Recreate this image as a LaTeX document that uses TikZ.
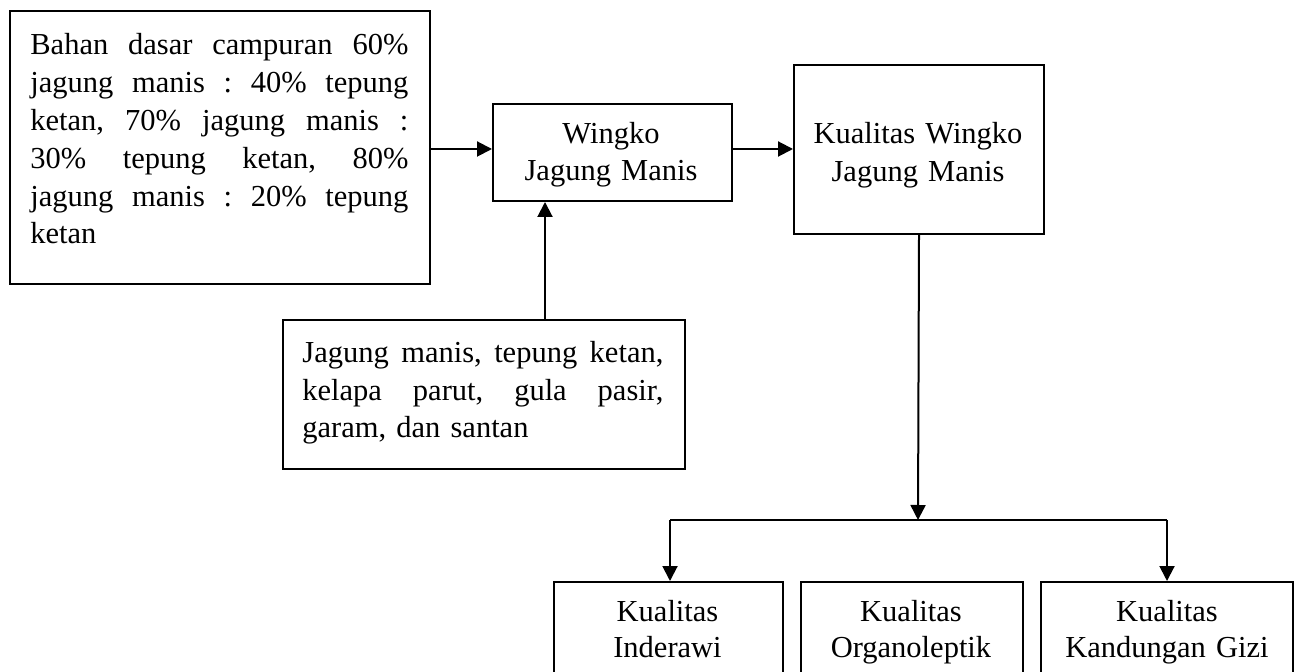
\documentclass[tikz,border=0pt]{standalone}
\usepackage{fontspec}
\setmainfont{Liberation Serif}
\usetikzlibrary{arrows.meta}
\newcommand\jline[2]{\leavevmode\hbox to #1{#2}}
\frenchspacing
\begin{document}
\begin{tikzpicture}[x=0.5pt,y=-0.5pt,
  box/.style={draw, line width=1pt, inner sep=0pt, anchor=north west},
  txt/.style={inner sep=0pt, anchor=base},
  txtl/.style={inner sep=0pt, anchor=base west, align=left},
  arr/.style={line width=1pt, -{Triangle[length=7.5pt,width=7.5pt]}},
  conn/.style={line width=1pt}]
\clip (0,0) rectangle (1299,672);
% boxes
\node[box, minimum width=210pt, minimum height=136.5pt] (boxA) at (9,10) {};
\node[box, minimum width=119.5pt, minimum height=48.5pt] (boxW) at (492,103) {};
\node[box, minimum width=125pt, minimum height=84.5pt] (boxK) at (793,64) {};
\node[box, minimum width=201pt, minimum height=74.5pt] (boxJ) at (282,319) {};
\node[box, minimum width=114.5pt, minimum height=75pt] (bI) at (553,581) {};
\node[box, minimum width=111pt, minimum height=75pt] (bO) at (800,581) {};
\node[box, minimum width=126pt, minimum height=75pt] (bG) at (1040,581) {};
% texts
\node[txtl, text width=189pt, font=\fontsize{15.25pt}{18.9pt}\selectfont] (tA) at (30,55)
  {\jline{189pt}{Bahan\hfill dasar\hfill campuran\hfill 60\%}\\
   \jline{189pt}{jagung\hfill manis\hfill :\hfill 40\%\hfill tepung}\\
   \jline{189pt}{ketan,\hfill 70\%\hfill jagung\hfill manis\hfill :}\\
   \jline{189pt}{30\%\hfill tepung\hfill ketan,\hfill 80\%}\\
   \jline{189pt}{jagung\hfill manis\hfill :\hfill 20\%\hfill tepung}\\
   ketan};
\node[txtl, text width=180.5pt, font=\fontsize{15.25pt}{18.75pt}\selectfont] (tJ) at (302,363)
  {\jline{180.5pt}{Jagung\hfill manis,\hfill tepung\hfill ketan,}\\
   \jline{180.5pt}{kelapa\hfill parut,\hfill gula\hfill pasir,}\\
   garam, dan santan};
\node[txt, text width=119pt, align=center, font=\fontsize{15.25pt}{18.5pt}\selectfont] (tW) at (611,144)
  {Wingko\\Jagung Manis};
\node[txt, text width=124pt, align=center, font=\fontsize{15.25pt}{18.75pt}\selectfont] (tK) at (918,144)
  {Kualitas Wingko\\Jagung Manis};
\node[txt, text width=114pt, align=center, font=\fontsize{15.25pt}{18pt}\selectfont] (tI) at (667.5,621)
  {Kualitas\\Inderawi};
\node[txt, text width=110pt, align=center, font=\fontsize{15.25pt}{18pt}\selectfont] (tO) at (911,621)
  {Kualitas\\Organoleptik};
\node[txt, text width=125pt, align=center, font=\fontsize{15.25pt}{18pt}\selectfont] (tG) at (1167,621)
  {Kualitas\\Kandungan Gizi};
% connectors
\coordinate (ly) at (0,149);
\coordinate (jx) at (545,0);
\coordinate (br) at (918,520);
\coordinate (bl) at (670,520);
\coordinate (brr) at (1167,520);
\draw[arr] (boxA.east |- ly) -- (boxW.west |- ly);
\draw[arr] (boxW.east |- ly) -- (boxK.west |- ly);
\draw[arr] (boxJ.north -| jx) -- (boxW.south -| jx);
\draw[arr] (boxK.south) -- (br);
\draw[conn] (bl) -- (brr);
\draw[arr] (bl) -- (bI.north -| bl);
\draw[arr] (brr) -- (bG.north -| brr);
\end{tikzpicture}
\end{document}
